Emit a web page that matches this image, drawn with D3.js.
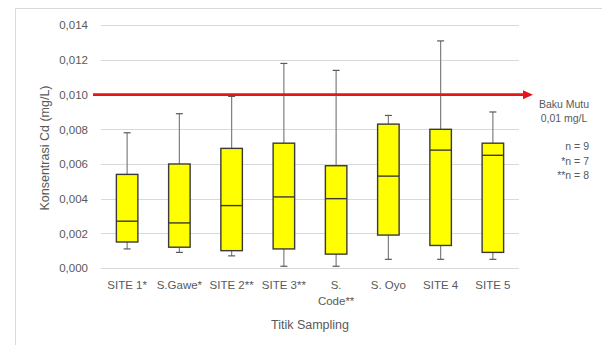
<!DOCTYPE html>
<html>
<head>
<meta charset="utf-8">
<script src="https://cdn.jsdelivr.net/npm/d3@7"></script>
<style>
  html, body { margin: 0; padding: 0; background: #fff; }
  svg { display: block; }
  text { font-family: "Liberation Sans", "DejaVu Sans", sans-serif; fill: #595959; }
</style>
</head>
<body>
<svg id="chart" width="602" height="345"></svg>
<script>
// Sampling sites (label lines) and box-plot statistics of Cd concentration (mg/L)
const categories = [["SITE 1*"], ["S.Gawe*"], ["SITE 2**"], ["SITE 3**"], ["S.", "Code**"], ["S. Oyo"], ["SITE 4"], ["SITE 5"]];
const whiskerLow  = [0.0011, 0.0009, 0.0007, 0.0001, 0.0001, 0.0005, 0.0005, 0.0005];
const q1          = [0.0015, 0.0012, 0.0010, 0.0011, 0.0008, 0.0019, 0.0013, 0.0009];
const median      = [0.0027, 0.0026, 0.0036, 0.0041, 0.0040, 0.0053, 0.0068, 0.0065];
const q3          = [0.0054, 0.0060, 0.0069, 0.0072, 0.0059, 0.0083, 0.0080, 0.0072];
const whiskerHigh = [0.0078, 0.0089, 0.0099, 0.0118, 0.0114, 0.0088, 0.0131, 0.0090];
const yTicks = [0, 0.002, 0.004, 0.006, 0.008, 0.010, 0.012, 0.014];
const standardLimit = 0.010;
const noteLines = ["n = 9", "*n = 7", "**n = 8"];

const svg = d3.select("#chart");

// outer frame (top and left edges)
svg.append("path")
  .attr("d", "M15.5,345 L15.5,8.5 L602,8.5")
  .attr("fill", "none").attr("stroke", "#d9d9d9").attr("stroke-width", 1);

const keys = categories.map(c => c.join(" "));
const x = d3.scaleBand().domain(keys).range([101, 519]).paddingInner(0).paddingOuter(0);
const y = d3.scaleLinear().domain([0, 0.014]).range([268, 25.3]);

// horizontal gridlines
svg.append("g").selectAll("line").data(yTicks).join("line")
  .attr("x1", 101).attr("x2", 519)
  .attr("y1", d => Math.round(y(d)) + 0.5).attr("y2", d => Math.round(y(d)) + 0.5)
  .attr("stroke", "#d9d9d9").attr("stroke-width", 1);

// y axis labels
const yAxis = d3.axisLeft(y).tickValues(yTicks)
  .tickFormat(d => d3.format(".3f")(d).replace(".", ","))
  .tickSize(0).tickPadding(0);
const yg = svg.append("g").attr("transform", "translate(88,0)").call(yAxis);
yg.select(".domain").remove();
yg.selectAll("text").attr("font-size", 11.5).attr("fill", "#595959")
  .style("font-family", "'Liberation Sans', sans-serif");

// y axis title
svg.append("text")
  .attr("transform", "translate(49,148) rotate(-90)")
  .attr("text-anchor", "middle").attr("font-size", 12.5)
  .text("Konsentrasi Cd (mg/L)");

// x category labels
const xLabels = svg.append("g");
categories.forEach((lines, i) => {
  const t = xLabels.append("text")
    .attr("x", x(keys[i]) + x.bandwidth() / 2)
    .attr("y", 289).attr("text-anchor", "middle").attr("font-size", 11.5);
  lines.forEach((ln, j) => {
    t.append("tspan").attr("x", x(keys[i]) + x.bandwidth() / 2)
      .attr("dy", j === 0 ? 0 : 16).text(ln);
  });
});

// x axis title
svg.append("text")
  .attr("x", 310).attr("y", 329).attr("text-anchor", "middle").attr("font-size", 12.5)
  .text("Titik Sampling");

// box plots
const boxW = 21.5;
const capW = 7;
const boxes = svg.append("g").selectAll("g").data(keys).join("g")
  .attr("transform", d => `translate(${x(d) + x.bandwidth() / 2},0)`);

boxes.append("line")
  .attr("x1", 0).attr("x2", 0)
  .attr("y1", (d, i) => y(whiskerHigh[i])).attr("y2", (d, i) => y(q3[i]))
  .attr("stroke", "#7f7f7f").attr("stroke-width", 1.2);
boxes.append("line")
  .attr("x1", 0).attr("x2", 0)
  .attr("y1", (d, i) => y(q1[i])).attr("y2", (d, i) => y(whiskerLow[i]))
  .attr("stroke", "#7f7f7f").attr("stroke-width", 1.2);
boxes.append("line")
  .attr("x1", -capW / 2).attr("x2", capW / 2)
  .attr("y1", (d, i) => y(whiskerHigh[i])).attr("y2", (d, i) => y(whiskerHigh[i]))
  .attr("stroke", "#595959").attr("stroke-width", 1.2);
boxes.append("line")
  .attr("x1", -capW / 2).attr("x2", capW / 2)
  .attr("y1", (d, i) => y(whiskerLow[i])).attr("y2", (d, i) => y(whiskerLow[i]))
  .attr("stroke", "#595959").attr("stroke-width", 1.2);
boxes.append("rect")
  .attr("x", -boxW / 2).attr("width", boxW)
  .attr("y", (d, i) => y(q3[i])).attr("height", (d, i) => y(q1[i]) - y(q3[i]))
  .attr("fill", "#ffff00").attr("stroke", "#3a3a3a").attr("stroke-width", 1.4);
boxes.append("line")
  .attr("x1", -boxW / 2).attr("x2", boxW / 2)
  .attr("y1", (d, i) => y(median[i])).attr("y2", (d, i) => y(median[i]))
  .attr("stroke", "#3a3a3a").attr("stroke-width", 1.4);

// quality standard line with arrow
const yLim = y(standardLimit);
svg.append("line")
  .attr("x1", 93).attr("x2", 525).attr("y1", yLim).attr("y2", yLim)
  .attr("stroke", "#e8141b").attr("stroke-width", 2.8);
svg.append("path")
  .attr("d", `M523,${yLim - 4.5} L533,${yLim} L523,${yLim + 4.5} Z`)
  .attr("fill", "#e8141b");

// annotations
svg.append("text").attr("x", 564).attr("y", 108).attr("text-anchor", "middle")
  .attr("font-size", 10.5).attr("fill", "#404040").text("Baku Mutu");
svg.append("text").attr("x", 564).attr("y", 122).attr("text-anchor", "middle")
  .attr("font-size", 10.5).attr("fill", "#404040").text("0,01 mg/L");
svg.append("g").selectAll("text").data(noteLines).join("text")
  .attr("x", 589).attr("y", (d, i) => 150 + i * 14.5).attr("text-anchor", "end")
  .attr("font-size", 10.5).attr("fill", "#404040").text(d => d);
</script>
</body>
</html>
